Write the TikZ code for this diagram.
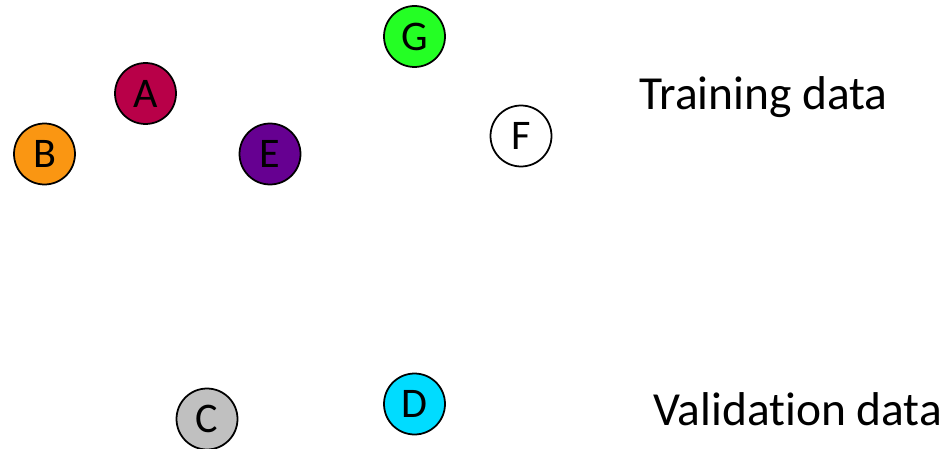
\documentclass[tikz,border=0pt]{standalone}
\usepackage{fontspec}
\setmainfont[Ligatures=NoCommon]{Carlito}
\usepackage{xcolor}

\definecolor{crimsonA}{RGB}{184,0,72}
\definecolor{orangeB}{RGB}{250,150,18}
\definecolor{purpleE}{RGB}{102,0,145}
\definecolor{greenG}{RGB}{36,255,36}
\definecolor{grayC}{RGB}{192,192,192}
\definecolor{cyanD}{RGB}{0,220,255}

\tikzset{
  point/.style={circle, draw=black, line width=1pt, minimum size=1.22cm,
    inner sep=0pt, font=\fontsize{24}{24}\selectfont},
  setlabel/.style={anchor=base west, inner sep=0pt, font=\fontsize{27}{27}\selectfont}
}

\begin{document}
\begin{tikzpicture}[x=0.02cm, y=-0.02cm]
\useasboundingbox (0,0) rectangle (946,449);

% training points
\node[point, fill=greenG]   (G) at (414.5, 36.5) {G};
\node[point, fill=crimsonA] (A) at (145.5, 93.5) {A};
\node[point, fill=orangeB]  (B) at (44.5, 154) {B};
\node[point, fill=purpleE]  (E) at (270, 154) {E};
\node[point, fill=white]    (F) at (521, 136) {F};

% validation points
\node[point, fill=grayC] (C) at (207, 419) {C};
\node[point, fill=cyanD] (D) at (414.5, 404) {D};

\node[setlabel] (train) at (639, 110) {Training data};
\node[setlabel] (valid) at (653, 425) {Validation data};
\end{tikzpicture}
\end{document}
